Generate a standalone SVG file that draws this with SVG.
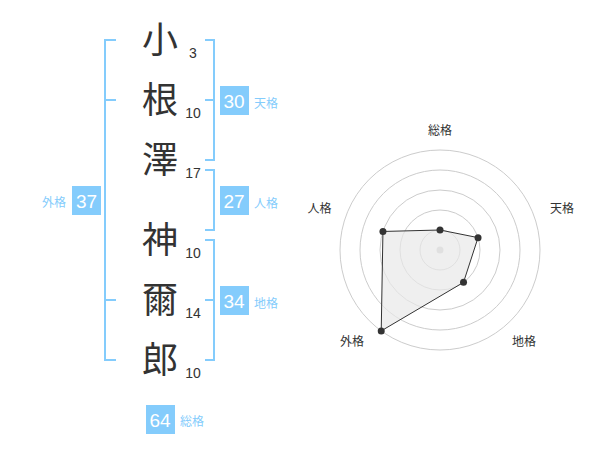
<svg xmlns="http://www.w3.org/2000/svg" width="600" height="470" viewBox="0 0 600 470">
<style>
.ch{font-family:"Noto Sans CJK JP","Noto Sans CJK SC",sans-serif;font-size:36px;fill:#333;text-anchor:middle}
.sc{font-family:"Liberation Sans",Arial,sans-serif;font-size:14px;fill:#333;text-anchor:middle}
.br{fill:none;stroke:#84ccfc;stroke-width:2}
.box{fill:#84ccfc}
.bn{font-family:"Liberation Sans",Arial,sans-serif;font-size:19px;fill:#fff;text-anchor:middle}
.bl{font-family:"Liberation Sans","Noto Sans CJK JP",sans-serif;font-size:12px;fill:#84ccfc}
.rl{font-family:"Liberation Sans","Noto Sans CJK JP",sans-serif;font-size:12px;fill:#333;text-anchor:middle}
.ring{fill:none;stroke:#cccccc;stroke-width:1}
.pt{fill:#333}
</style>
<rect width="600" height="470" fill="#fff"/>
<g id="chars">
<text class="ch" x="160" y="53">小</text>
<text class="sc" x="193" y="57.5">3</text>
<text class="ch" x="160" y="113">根</text>
<text class="sc" x="193" y="117.5">10</text>
<text class="ch" x="160" y="173">澤</text>
<text class="sc" x="193" y="177.5">17</text>
<text class="ch" x="160" y="253">神</text>
<text class="sc" x="193" y="257.5">10</text>
<text class="ch" x="160" y="313">爾</text>
<text class="sc" x="193" y="317.5">14</text>
<text class="ch" x="160" y="373">郎</text>
<text class="sc" x="193" y="377.5">10</text>
</g>
<g id="brackets">
<path class="br" d="M116,40 H105 V360 H116 M105,100 H116 M105,300 H116"/>
<path class="br" d="M205,40 H214 V160 H205 M205,100 H214"/>
<path class="br" d="M205,170 H214 V230 H205"/>
<path class="br" d="M205,240 H214 V360 H205 M205,300 H214"/>
</g>
<g id="gaikaku">
<rect class="box" x="72" y="186" width="29" height="29"/>
<text class="bn" x="86.5" y="207.5">37</text>
<text class="bl" x="42" y="207">外格</text>
</g>
<g id="tenkaku">
<rect class="box" x="220" y="86" width="29" height="29"/>
<text class="bn" x="234" y="107.5">30</text>
<text class="bl" x="254" y="108">天格</text>
</g>
<g id="jinkaku">
<rect class="box" x="220" y="186" width="29" height="29"/>
<text class="bn" x="234" y="207.5">27</text>
<text class="bl" x="254" y="208">人格</text>
</g>
<g id="chikaku">
<rect class="box" x="220" y="286" width="29" height="29"/>
<text class="bn" x="234" y="307.5">34</text>
<text class="bl" x="254" y="308">地格</text>
</g>
<g id="soukaku">
<rect class="box" x="146" y="405" width="29" height="29"/>
<text class="bn" x="160" y="426.5">64</text>
<text class="bl" x="180" y="426">総格</text>
</g>
<g id="radar">
<circle class="ring" cx="440" cy="250" r="20"/>
<circle class="ring" cx="440" cy="250" r="40"/>
<circle class="ring" cx="440" cy="250" r="60"/>
<circle class="ring" cx="440" cy="250" r="80"/>
<circle class="ring" cx="440" cy="250" r="100"/>
<circle cx="440" cy="250" r="3.5" fill="#cccccc"/>
<polygon points="440,230 478.04,237.64 463.51,282.36 381.22,330.9 382.94,231.46" fill="#e8e8e8" fill-opacity="0.7" stroke="#333" stroke-width="1"/>
<circle class="pt" cx="440" cy="230" r="3.5"/>
<circle class="pt" cx="478.04" cy="237.64" r="3.5"/>
<circle class="pt" cx="463.51" cy="282.36" r="3.5"/>
<circle class="pt" cx="381.22" cy="330.9" r="3.5"/>
<circle class="pt" cx="382.94" cy="231.46" r="3.5"/>
<text class="rl" x="440" y="135">総格</text>
<text class="rl" x="562" y="213">天格</text>
<text class="rl" x="524" y="346">地格</text>
<text class="rl" x="352" y="346">外格</text>
<text class="rl" x="319.5" y="213">人格</text>
</g>
</svg>
